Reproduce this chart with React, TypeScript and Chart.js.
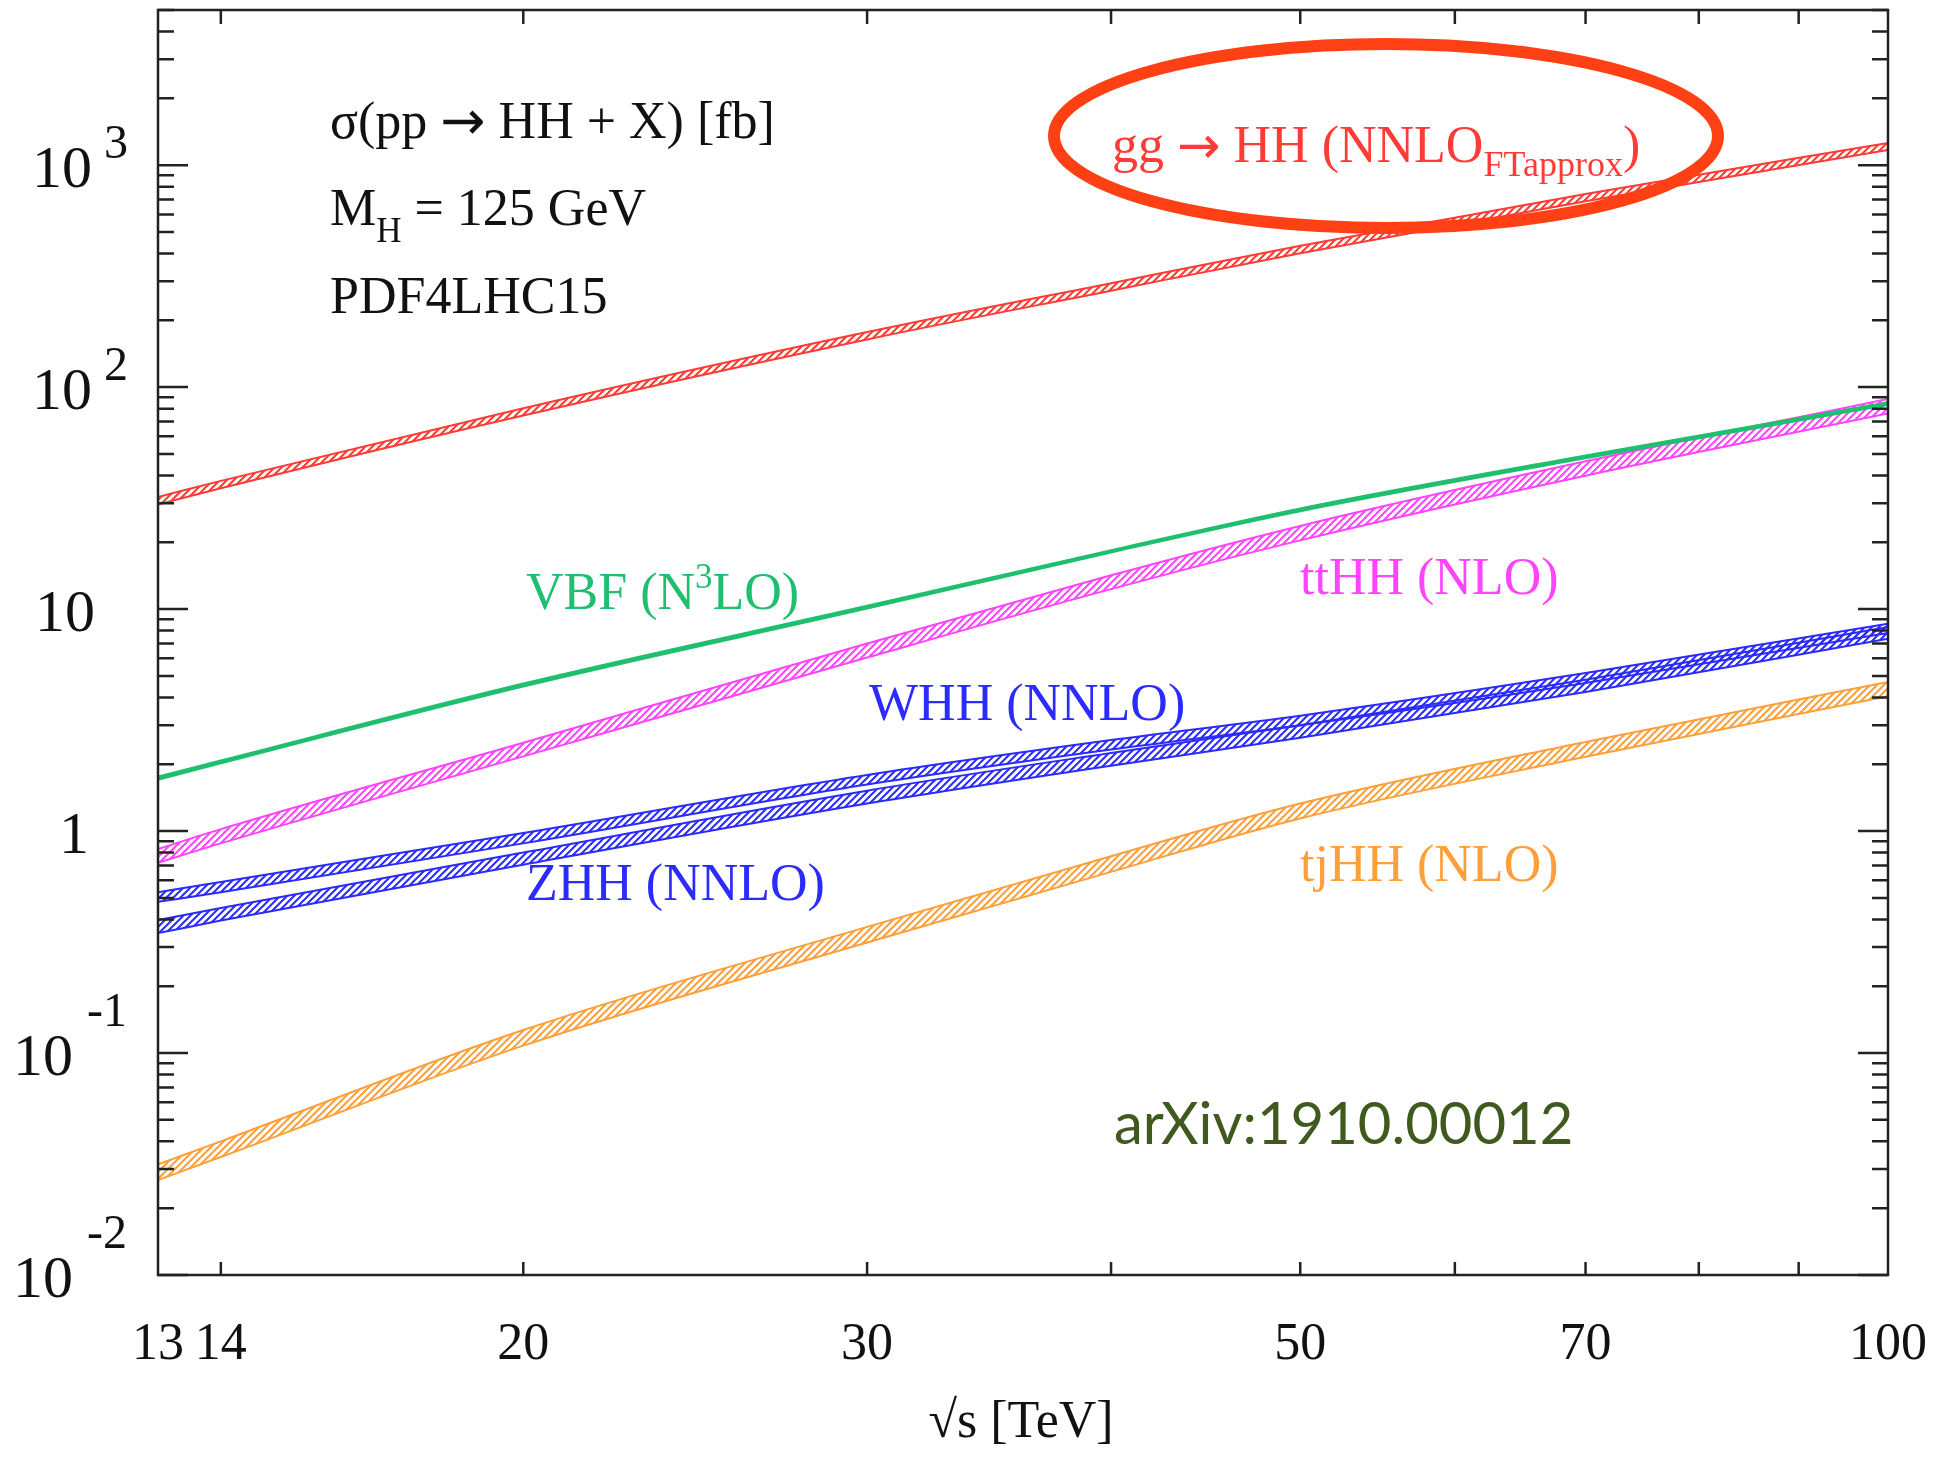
import React, { useEffect, useRef } from "react";
import { Chart, registerables } from "chart.js";

Chart.register(...registerables);

// sqrt(s) in TeV
const energies = [13, 14, 20, 30, 40, 50, 70, 100];

// cross sections in fb (upper / lower edge of each uncertainty band)
const ggHH_hi = [32.0, 37.8, 80.3, 177, 294, 433, 742, 1260];
const ggHH_lo = [29.6, 35.0, 74.5, 164, 272, 401, 688, 1170];
const vbf_hi = [1.76, 2.08, 4.62, 10.35, 18.4, 28.4, 49.2, 85.5];
const vbf_lo = [1.70, 2.02, 4.48, 10.05, 18.0, 27.6, 47.8, 83.0];
const ttHH_hi = [0.83, 1.02, 2.5, 7.0, 14.2, 23.7, 46.3, 88.5];
const ttHH_lo = [0.72, 0.88, 2.17, 6.05, 12.3, 20.4, 39.9, 76.0];
const WHH_hi = [0.53, 0.59, 0.98, 1.79, 2.57, 3.31, 5.15, 8.6];
const WHH_lo = [0.48, 0.53, 0.88, 1.62, 2.33, 3.0, 4.65, 7.8];
const ZHH_hi = [0.397, 0.45, 0.8, 1.52, 2.25, 3.0, 4.8, 8.3];
const ZHH_lo = [0.347, 0.395, 0.705, 1.33, 1.97, 2.63, 4.23, 7.35];
const tjHH_hi = [0.0315, 0.040, 0.127, 0.37, 0.77, 1.33, 2.52, 4.7];
const tjHH_lo = [0.0268, 0.034, 0.108, 0.315, 0.655, 1.14, 2.16, 4.05];

const xTickMarks = [14, 20, 30, 40, 50, 60, 70, 80, 90];
const xTickLabels = [13, 14, 20, 30, 50, 70, 100];
const yDecades = [-2, -1, 0, 1, 2, 3];

const SERIF = '"Liberation Serif", "DejaVu Serif", serif';
const ARROW = '"DejaVu Sans", sans-serif';

const COL = {
  red: "#ff3b35",
  green: "#1fbf6f",
  magenta: "#ff44ff",
  blue: "#2b2bff",
  orange: "#ff9f3a",
};

function makePattern(ctx: CanvasRenderingContext2D, color: string) {
  const c = document.createElement("canvas");
  c.width = 7;
  c.height = 7;
  const g = c.getContext("2d")!;
  g.strokeStyle = color;
  g.lineWidth = 2;
  g.beginPath();
  g.moveTo(-1, 8);
  g.lineTo(8, -1);
  g.moveTo(-4, 4);
  g.lineTo(4, -4);
  g.moveTo(3, 11);
  g.lineTo(11, 3);
  g.stroke();
  return ctx.createPattern(c, "repeat");
}

function band(hi: number[], lo: number[], color: string, fillStyle: any) {
  const common = {
    borderColor: color,
    borderWidth: 2,
    pointRadius: 0,
    cubicInterpolationMode: "monotone" as const,
  };
  return [
    { ...common, data: energies.map((x, i) => ({ x, y: hi[i] })), fill: false },
    {
      ...common,
      data: energies.map((x, i) => ({ x, y: lo[i] })),
      fill: "-1",
      backgroundColor: fillStyle,
    },
  ];
}

type Part = { t: string; size: number; dy?: number; family?: string };
function drawParts(ctx: CanvasRenderingContext2D, parts: Part[], x: number, y: number, color: string, family = SERIF) {
  ctx.fillStyle = color;
  ctx.textAlign = "left";
  ctx.textBaseline = "alphabetic";
  let cx = x;
  for (const p of parts) {
    ctx.font = `${p.size}px ${p.family || family}`;
    ctx.fillText(p.t, cx, y + (p.dy || 0));
    cx += ctx.measureText(p.t).width;
  }
}

const decorPlugin = {
  id: "decor",
  afterDraw(chart: any) {
    const ctx: CanvasRenderingContext2D = chart.ctx;
    const { left, right, top, bottom } = chart.chartArea;
    const xs = chart.scales.x;
    const ys = chart.scales.y;
    ctx.save();
    // frame
    ctx.strokeStyle = "#222";
    ctx.lineWidth = 2.5;
    ctx.strokeRect(left, top, right - left, bottom - top);
    // x ticks
    for (const v of xTickMarks) {
      const px = xs.getPixelForValue(v);
      ctx.beginPath();
      ctx.moveTo(px, bottom);
      ctx.lineTo(px, bottom - 13);
      ctx.moveTo(px, top);
      ctx.lineTo(px, top + 14);
      ctx.stroke();
    }
    // y ticks
    for (let d = -2; d <= 3; d++) {
      for (let m = 1; m <= 9; m++) {
        const v = m * Math.pow(10, d);
        if (v > ys.max) continue;
        const py = ys.getPixelForValue(v);
        const len = m === 1 ? 30 : 16;
        ctx.beginPath();
        ctx.moveTo(left, py);
        ctx.lineTo(left + len, py);
        ctx.moveTo(right, py);
        ctx.lineTo(right - len, py);
        ctx.stroke();
      }
    }
    // y labels
    for (const e of yDecades) {
      const py = ys.getPixelForValue(Math.pow(10, e));
      if (e === 0) {
        ctx.font = `60px ${SERIF}`;
        ctx.fillStyle = "#111";
        ctx.textAlign = "center";
        ctx.fillText("1", 74, py + 22);
      } else if (e === 1) {
        ctx.font = `60px ${SERIF}`;
        ctx.fillStyle = "#111";
        ctx.textAlign = "left";
        ctx.fillText("10", 35, py + 22);
      } else if (e > 0) {
        drawParts(ctx, [{ t: "10", size: 60 }], 32, py + 22, "#111");
        drawParts(ctx, [{ t: String(e), size: 48 }], 104, py - 7, "#111");
      } else {
        drawParts(ctx, [{ t: "10", size: 60 }], 13, py + 22, "#111");
        drawParts(ctx, [{ t: String(e), size: 48 }], 87, py - 27, "#111");
      }
    }
    // x labels
    ctx.fillStyle = "#111";
    ctx.font = `52px ${SERIF}`;
    ctx.textAlign = "center";
    for (const v of xTickLabels) {
      ctx.fillText(String(v), xs.getPixelForValue(v), 1359);
    }
    ctx.fillText("\u221As [TeV]", 1021, 1437);

    // top-left annotation
    drawParts(
      ctx,
      [
        { t: "\u03C3(pp ", size: 52 },
        { t: "\u2192", size: 54, family: ARROW, dy: 1 },
        { t: " HH + X) [fb]", size: 52 },
      ],
      330,
      138,
      "#111"
    );
    drawParts(ctx, [{ t: "M", size: 52 }, { t: "H", size: 35, dy: 17 }, { t: " = 125 GeV", size: 52 }], 330, 225, "#111");
    drawParts(ctx, [{ t: "PDF4LHC15", size: 52 }], 330, 313, "#111");

    // process labels
    drawParts(
      ctx,
      [
        { t: "gg ", size: 52 },
        { t: "\u2192", size: 52, family: ARROW, dy: 1 },
        { t: " HH (NNLO", size: 52 },
        { t: "FTapprox", size: 36, dy: 14 },
        { t: ")", size: 52 },
      ],
      1112,
      162,
      COL.red
    );
    drawParts(ctx, [{ t: "VBF (N", size: 52 }, { t: "3", size: 35, dy: -21 }, { t: "LO)", size: 52 }], 526, 609, COL.green);
    drawParts(ctx, [{ t: "ttHH (NLO)", size: 52 }], 1300, 594, COL.magenta);
    drawParts(ctx, [{ t: "WHH (NNLO)", size: 52 }], 869, 720, COL.blue);
    drawParts(ctx, [{ t: "ZHH (NNLO)", size: 52 }], 526, 900, COL.blue);
    drawParts(ctx, [{ t: "tjHH (NLO)", size: 52 }], 1300, 881, COL.orange);
    drawParts(ctx, [{ t: "arXiv:1910.00012", size: 58 }], 1114, 1144, "#3f5a1c", '"Lato", "Open Sans", sans-serif');

    // highlight ellipse
    ctx.strokeStyle = "#ff4015";
    ctx.lineWidth = 12;
    ctx.beginPath();
    ctx.ellipse(1386, 136, 332, 92, 0, 0, Math.PI * 2);
    ctx.stroke();
    ctx.restore();
  },
};

export default function App() {
  const ref = useRef<HTMLCanvasElement | null>(null);
  useEffect(() => {
    const canvas = ref.current!;
    const ctx = canvas.getContext("2d")!;
    const datasets = [
      ...band(ggHH_hi, ggHH_lo, COL.red, makePattern(ctx, COL.red)),
      ...band(vbf_hi, vbf_lo, COL.green, COL.green),
      ...band(ttHH_hi, ttHH_lo, COL.magenta, makePattern(ctx, COL.magenta)),
      ...band(WHH_hi, WHH_lo, COL.blue, makePattern(ctx, COL.blue)),
      ...band(ZHH_hi, ZHH_lo, COL.blue, makePattern(ctx, COL.blue)),
      ...band(tjHH_hi, tjHH_lo, COL.orange, makePattern(ctx, COL.orange)),
    ];
    const chart = new Chart(ctx, {
      type: "line",
      data: { datasets: datasets as any },
      options: {
        animation: false,
        responsive: false,
        events: [],
        layout: { padding: { top: 10, right: 53, left: 0, bottom: 0 } },
        plugins: { legend: { display: false }, tooltip: { enabled: false } },
        scales: {
          x: {
            type: "logarithmic",
            min: 13,
            max: 100,
            ticks: { display: false },
            grid: { display: false },
            border: { display: false },
            afterFit: (s: any) => {
              s.height = 186;
            },
          },
          y: {
            type: "logarithmic",
            min: 0.01,
            max: 5000,
            ticks: { display: false },
            grid: { display: false },
            border: { display: false },
            afterFit: (s: any) => {
              s.width = 158;
            },
          },
        },
      },
      plugins: [decorPlugin],
    });
    return () => chart.destroy();
  }, []);
  return (
    <div style={{ position: "absolute", left: 0, top: 0, width: 1941, height: 1461, background: "#fff" }}>
      <canvas ref={ref} width={1941} height={1461} style={{ display: "block" }} />
    </div>
  );
}
